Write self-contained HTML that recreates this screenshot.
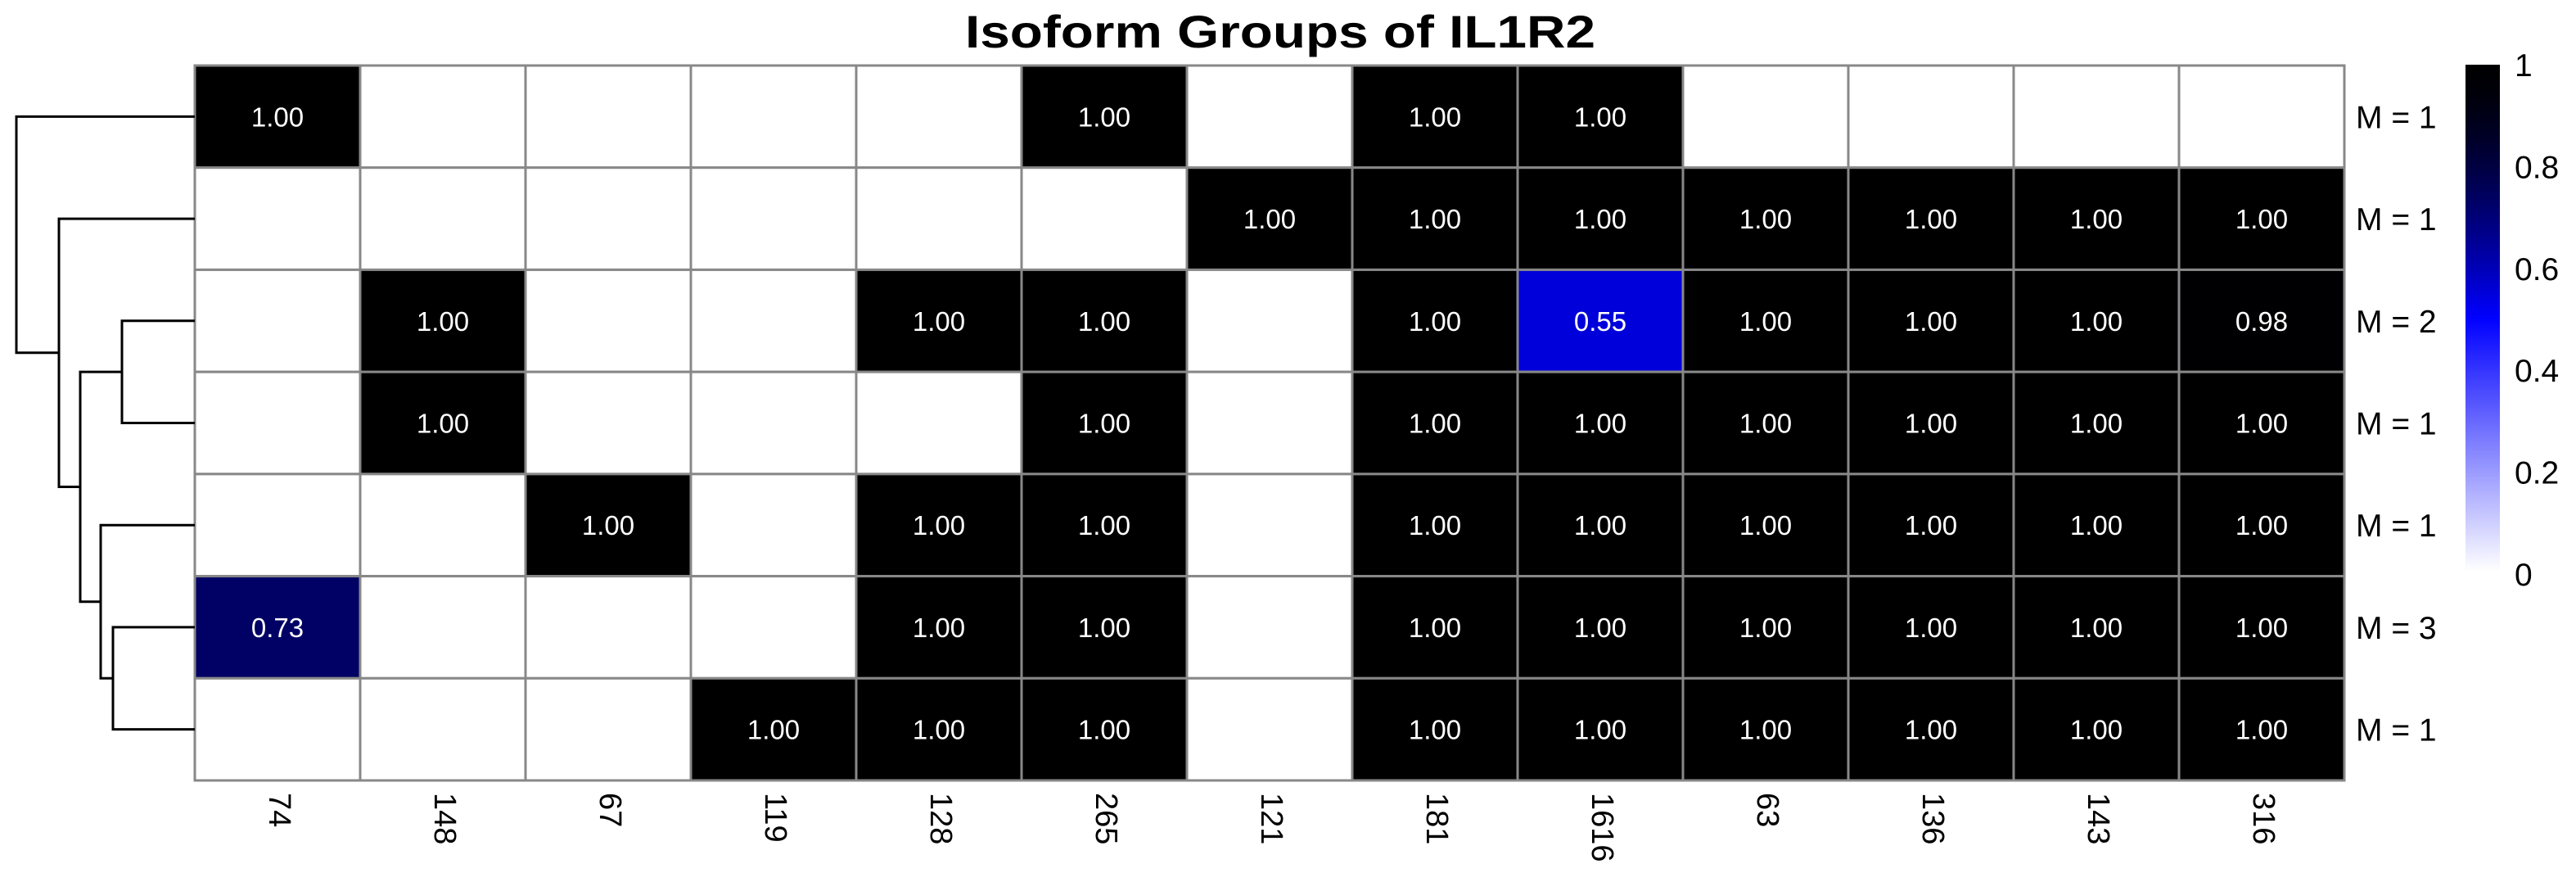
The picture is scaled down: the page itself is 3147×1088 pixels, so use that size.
<!DOCTYPE html>
<html><head><meta charset="utf-8"><style>
html,body{margin:0;padding:0;background:#fff;}
svg{display:block;font-family:"Liberation Sans",Arial,sans-serif;}
</style></head><body>
<svg id="chart" width="3147" height="1088" viewBox="0 0 3147 1088" xmlns="http://www.w3.org/2000/svg">
<text x="1564" y="58" text-anchor="middle" font-size="56" font-weight="bold" textLength="770" lengthAdjust="spacingAndGlyphs">Isoform Groups of IL1R2</text>
</svg>
<script>
const columns = ["74","148","67","119","128","265","121","181","1616","63","136","143","316"];
const rowLabels = ["M = 1","M = 1","M = 2","M = 1","M = 1","M = 3","M = 1"];
const row0 = [1,0,0,0,0,1,0,1,1,0,0,0,0];
const row1 = [0,0,0,0,0,0,1,1,1,1,1,1,1];
const row2 = [0,1,0,0,1,1,0,1,0.55,1,1,1,0.98];
const row3 = [0,1,0,0,0,1,0,1,1,1,1,1,1];
const row4 = [0,0,1,0,1,1,0,1,1,1,1,1,1];
const row5 = [0.73,0,0,0,1,1,0,1,1,1,1,1,1];
const row6 = [0,0,0,1,1,1,0,1,1,1,1,1,1];
const values = [row0,row1,row2,row3,row4,row5,row6];
const legendTicks = [0,0.2,0.4,0.6,0.8,1];
const legendTickLabels = ["0","0.2","0.4","0.6","0.8","1"];
const merges = [[5,6,100],[4,7,115],[2,3,89],[9,8,140],[1,10,166],[0,11,218]];

const svg = document.getElementById('chart');
const NS = 'http://www.w3.org/2000/svg';
const GX0=238, GX1=2864, GY0=80, GY1=953;
const cw=(GX1-GX0)/columns.length, rh=(GY1-GY0)/values.length;
const xCol=i=>GX0+cw*i, yRow=i=>GY0+rh*i;
const dendX=h=>GX0-h;
function color(v){
  if(v<=0.5){const t=v/0.5;const c=Math.round(255*(1-t));return `rgb(${c},${c},255)`;}
  const t=(v-0.5)/0.5;return `rgb(0,0,${Math.round(255*Math.pow(1-t,1.5))})`;
}
function mk(tag,attrs){const e=document.createElementNS(NS,tag);for(const k in attrs)e.setAttribute(k,attrs[k]);svg.appendChild(e);return e;}

values.forEach((row,r)=>row.forEach((v,c)=>{
  const rect=mk('rect',{x:xCol(c),y:yRow(r),width:cw,height:rh,fill:v>0?color(v):'#fff',stroke:'#888','stroke-width':3});
  
  
  if(v>0){
    const t=mk('text',{x:xCol(c)+cw/2,y:yRow(r)+rh/2+12,'text-anchor':'middle','font-size':33,fill:'#fff'});
    t.textContent=v.toFixed(2);
    
    
  }
}));
rowLabels.forEach((l,r)=>{
  const t=mk('text',{x:2878,y:yRow(r)+rh/2+14,'font-size':39});
  t.textContent=l;
  
  
});
columns.forEach((l,c)=>{
  const x=xCol(c)+cw/2,y=968;
  const t=mk('text',{x:x,y:y,'font-size':38,transform:`rotate(90 ${x} ${y})`,'dominant-baseline':'middle'});
  t.textContent=l;
  
  
});
const LB0=3012,LB1=3054,LY0=79,LY1=698;
const defs=mk('defs',{});
const g=document.createElementNS(NS,'linearGradient');
g.setAttribute('id','cb');g.setAttribute('x1','0');g.setAttribute('y1','1');g.setAttribute('x2','0');g.setAttribute('y2','0');
for(let i=0;i<=20;i++){const s=document.createElementNS(NS,'stop');s.setAttribute('offset',i/20);s.setAttribute('stop-color',color(i/20));g.appendChild(s);}
defs.appendChild(g);
const cb=mk('rect',{x:LB0,y:LY0,width:LB1-LB0,height:LY1-LY0,fill:'url(#cb)'});


const ly=v=>LY1+3-(LY1+3-LY0)*v;
legendTicks.forEach((v,i)=>{
  const t=mk('text',{x:3072,y:ly(v)+14,'font-size':39});
  t.textContent=legendTickLabels[i];
  
  
});
const pos={};
values.forEach((_,i)=>{pos[i]={y:yRow(i)+rh/2,h:0};});
merges.forEach((m,k)=>{
  const a=pos[m[0]],b=pos[m[1]],x=dendX(m[2]);
  const p=mk('path',{d:`M${dendX(a.h)},${a.y}H${x}V${b.y}H${dendX(b.h)}`,fill:'none',stroke:'#000','stroke-width':3});
  
  
  pos[values.length+k]={y:(a.y+b.y)/2,h:m[2]};
});
</script>
</body></html>
